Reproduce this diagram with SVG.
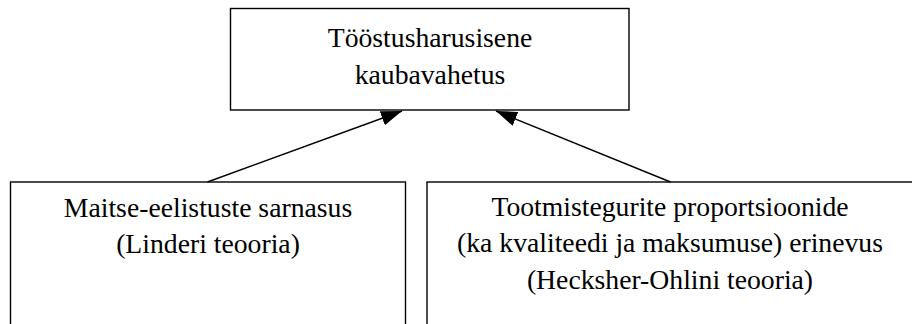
<svg xmlns="http://www.w3.org/2000/svg" width="912" height="324" viewBox="0 0 912 324">
<style>
.box{fill:#fff;stroke:#000;stroke-width:1.4}
.t{font-family:"Liberation Serif","Times New Roman",serif;font-size:27.7px;fill:#000;text-anchor:middle}
.c{stroke:#000;stroke-width:1.4;fill:none}
</style>
<defs>
<marker id="ah" markerUnits="userSpaceOnUse" markerWidth="22" markerHeight="16" refX="21" refY="7.5" orient="auto" viewBox="0 0 22 16">
<path d="M0,0 L21,7.5 L0,15 Z" fill="#000"/>
</marker>
</defs>
<rect width="912" height="324" fill="#fff"/>
<g id="top">
<rect class="box" x="230.5" y="8.5" width="398.5" height="101.5"/>
<text class="t" x="430" y="47">Tööstusharusisene</text>
<text class="t" x="430" y="83.5">kaubavahetus</text>
</g>
<g id="left">
<rect class="box" x="10.5" y="182" width="395" height="160"/>
<text class="t" x="208" y="216.5">Maitse-eelistuste sarnasus</text>
<text class="t" x="208" y="253">(Linderi teooria)</text>
</g>
<g id="right">
<rect class="box" x="427" y="182" width="486" height="160"/>
<text class="t" x="670" y="215.5">Tootmistegurite proportsioonide</text>
<text class="t" x="670" y="252">(ka kvaliteedi ja maksumuse) erinevus</text>
<text class="t" x="670" y="288.5">(Hecksher-Ohlini teooria)</text>
</g>
<g id="connectors">
<line class="c" x1="207.5" y1="182" x2="402" y2="111" marker-end="url(#ah)"/>
<line class="c" x1="670.5" y1="182" x2="496" y2="111" marker-end="url(#ah)"/>
</g>
</svg>
